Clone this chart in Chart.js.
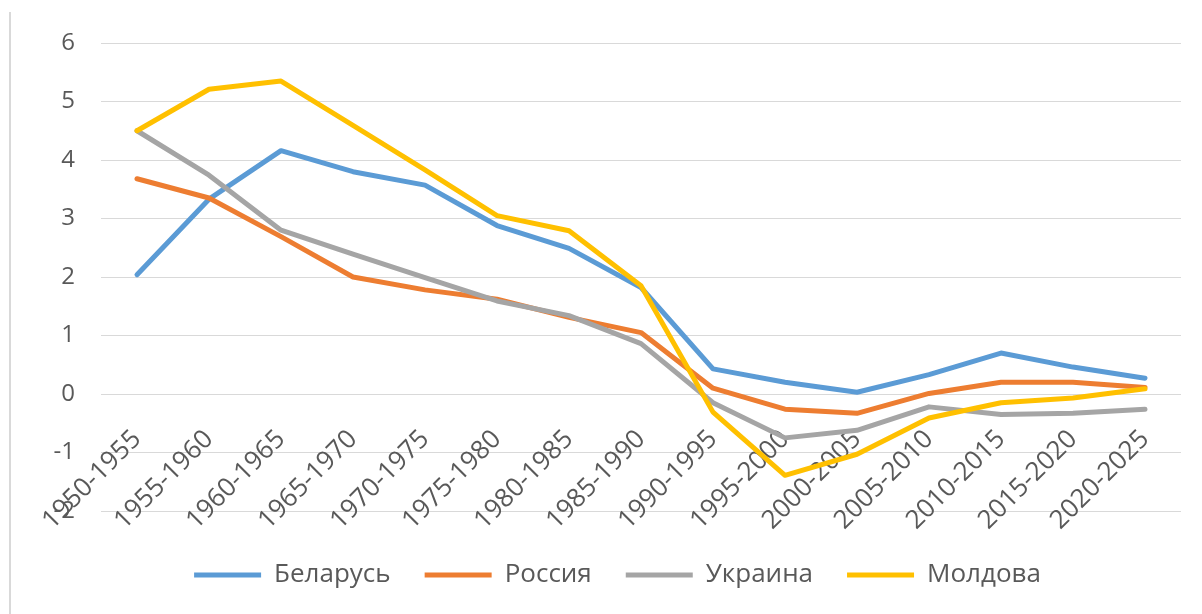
<!DOCTYPE html>
<html lang="ru">
<head>
  <meta charset="UTF-8" />
  <title>Прирост населения</title>
  <script src="https://cdn.jsdelivr.net/npm/chart.js"></script>
  <style>
    body { margin: 0; background: #fff; }
    #frame { position: absolute; left: 9px; top: 12px; bottom: 0; width: 2px; background: #d9d9d9; }
    canvas { position: absolute; left: 0; top: 0; }
  </style>
</head>
<body>
  <div id="frame"></div>
  <canvas id="grafica" width="1202" height="614"></canvas>

  <script>
    const periodos = ['1950-1955', '1955-1960', '1960-1965', '1965-1970', '1970-1975',
      '1975-1980', '1980-1985', '1985-1990', '1990-1995', '1995-2000',
      '2000-2005', '2005-2010', '2010-2015', '2015-2020', '2020-2025'];

    const belarus = [2.04, 3.33, 4.16, 3.8, 3.57, 2.88, 2.49, 1.82, 0.43, 0.2, 0.03, 0.33, 0.7, 0.46, 0.27];
    const rossiya = [3.68, 3.35, 2.69, 2.0, 1.78, 1.62, 1.31, 1.05, 0.1, -0.26, -0.33, 0.01, 0.2, 0.2, 0.11];
    const ukraina = [4.5, 3.74, 2.8, 2.39, 1.99, 1.59, 1.34, 0.86, -0.15, -0.75, -0.62, -0.22, -0.35, -0.33, -0.26];
    const moldova = [4.5, 5.21, 5.35, 4.59, 3.83, 3.05, 2.79, 1.85, -0.31, -1.39, -1.03, -0.41, -0.15, -0.07, 0.09];

    const yTicks = [-2, -1, 0, 1, 2, 3, 4, 5, 6];

    const fuente = 'Open Sans';
    const gris = '#595959';

    function serie(label, data, color, order) {
      return {
        label, data, order,
        xAxisID: 'x',
        borderColor: color,
        backgroundColor: color,
        borderWidth: 5,
        borderCapStyle: 'round',
        borderJoinStyle: 'round',
        pointRadius: 0,
        pointHoverRadius: 0,
        tension: 0,
        fill: false
      };
    }

    const ctx = document.getElementById('grafica').getContext('2d');
    new Chart(ctx, {
      type: 'line',
      data: {
        labels: periodos,
        datasets: [
          serie('Беларусь', belarus, '#5B9BD5', 3),
          serie('Россия', rossiya, '#ED7D31', 2),
          serie('Украина', ukraina, '#A5A5A5', 1),
          serie('Молдова', moldova, '#FFC000', 0)
        ]
      },
      options: {
        responsive: false,
        animation: false,
        layout: { padding: { left: 54, right: 21, top: 43, bottom: 16 } },
        plugins: {
          tooltip: { enabled: false },
          legend: {
            position: 'bottom',
            labels: {
              usePointStyle: true,
              pointStyle: 'line',
              pointStyleWidth: 67,
              padding: 34,
              color: gris,
              font: { family: fuente, size: 26 },
              sort: (a, b) => a.datasetIndex - b.datasetIndex
            }
          }
        },
        scales: {
          x: {
            type: 'category',
            position: { y: 0 },
            offset: true,
            grid: { display: false, drawTicks: false },
            border: { display: false },
            ticks: {
              autoSkip: false,
              minRotation: 45,
              maxRotation: 45,
              padding: 30,
              color: gris,
              font: { family: fuente, size: 26 }
            },
            // rotated labels may hang outside the plot, like in Excel
            afterFit: s => { s.paddingLeft = 0; s.paddingRight = 0; }
          },
          // empty band between plot and legend
          xPad: {
            type: 'category',
            position: 'bottom',
            grid: { display: false, drawTicks: false },
            border: { display: false },
            ticks: { display: false },
            afterFit: s => { s.height = 17; }
          },
          y: {
            min: -2,
            max: 6,
            afterBuildTicks: s => { s.ticks = yTicks.map(v => ({ value: v })); },
            afterFit: s => { s.width = 47; },
            grid: { color: '#D9D9D9', lineWidth: 1, drawTicks: false },
            border: { display: false },
            ticks: {
              padding: 26,
              color: gris,
              font: { family: fuente, size: 24 }
            }
          }
        }
      }
    });
  </script>
</body>
</html>
